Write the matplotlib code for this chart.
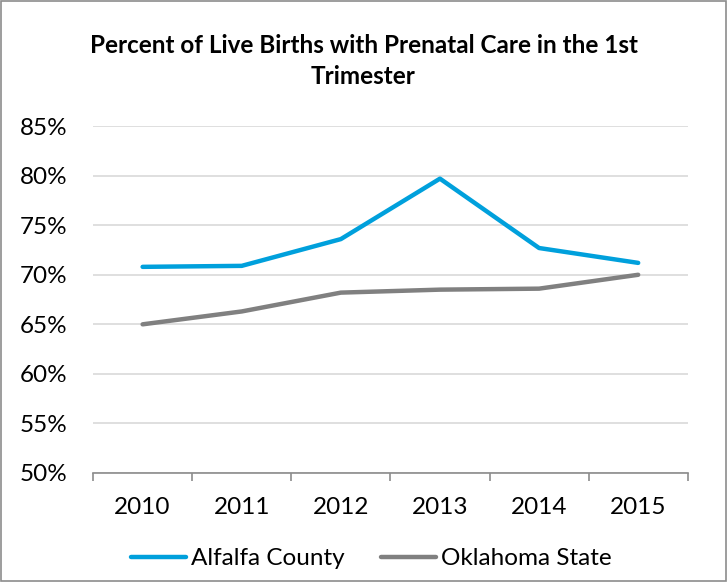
import matplotlib.pyplot as plt
from matplotlib.patches import Rectangle
from matplotlib.ticker import FixedLocator, NullFormatter

years = ["2010", "2011", "2012", "2013", "2014", "2015"]
alfalfa = [70.8, 70.9, 73.6, 79.7, 72.7, 71.2]
oklahoma = [65.0, 66.3, 68.2, 68.5, 68.6, 70.0]
yticks = [50, 55, 60, 65, 70, 75, 80, 85]

plt.rcParams['font.family'] = ['Lato', 'DejaVu Sans']

fig = plt.figure(figsize=(7.27, 5.82), dpi=100)
fig.patches.append(Rectangle((0.002, 0.002), 0.996, 0.996, transform=fig.transFigure,
                             fill=False, edgecolor='#8c8c8c', linewidth=1.2))
ax = fig.add_axes([0.128, 0.1873, 0.818, 0.596])

x = range(len(years))
ax.plot(x, alfalfa, color='#00a0dc', linewidth=3.2, solid_capstyle='round', label='Alfalfa County')
ax.plot(x, oklahoma, color='#808080', linewidth=3.2, solid_capstyle='round', label='Oklahoma State')

ax.set_xlim(-0.5, len(years) - 0.5)
ax.set_ylim(50, 85)
ax.set_yticks(yticks)
ax.set_yticklabels([f"{v}%" for v in yticks])
ax.yaxis.grid(True, color='#d9d9d9', linewidth=1.2)
ax.set_axisbelow(True)
ax.tick_params(axis='y', length=0, labelsize=17.5, pad=18.5, colors='black')

ax.set_xticks(list(x))
ax.set_xticklabels(years)
ax.tick_params(axis='x', which='major', length=0, labelsize=17.5, pad=17)
ax.xaxis.set_minor_locator(FixedLocator([i - 0.5 for i in range(len(years) + 1)]))
ax.xaxis.set_minor_formatter(NullFormatter())
ax.tick_params(axis='x', which='minor', length=6, width=1.2, color='#8c8c8c', direction='out')

for s in ['top', 'right', 'left']:
    ax.spines[s].set_visible(False)
ax.spines['bottom'].set_color('#8c8c8c')
ax.spines['bottom'].set_linewidth(1.2)

fig.text(0.5, 0.922, "Percent of Live Births with Prenatal Care in the 1st", ha='center', va='center',
         fontsize=17.5, fontweight='bold')
fig.text(0.5, 0.869, "Trimester", ha='center', va='center', fontsize=17.5, fontweight='bold')

fig.legend(loc='center', bbox_to_anchor=(0.511, 0.04), ncol=2, frameon=False, fontsize=17.5,
           handlelength=2.26, handletextpad=0.2, columnspacing=1.5)

fig.savefig('out.png', dpi=100)
